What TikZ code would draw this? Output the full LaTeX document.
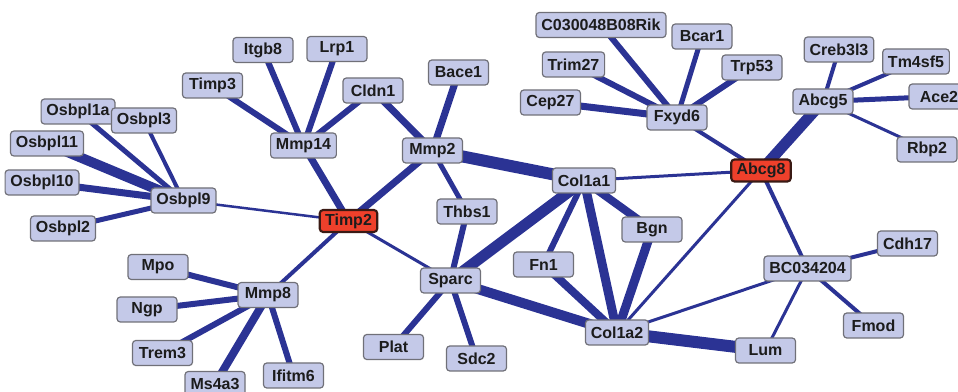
\documentclass[tikz,border=0pt]{standalone}
\usepackage{fontspec}
\setmainfont{Liberation Sans}
\pgfdeclarelayer{bg}
\pgfsetlayers{bg,main}
\definecolor{edgeblue}{HTML}{2B3394}
\definecolor{nodefill}{HTML}{C4C9E8}
\definecolor{nodeline}{HTML}{707078}
\definecolor{hitfill}{HTML}{EE402B}
\definecolor{hitline}{HTML}{3A1A14}
\definecolor{txt}{HTML}{1C1C1C}
\tikzset{
  gene/.style={draw=nodeline, line width=0.9pt, fill=nodefill, rounded corners=2.5pt,
    minimum width=45pt, minimum height=18.75pt, inner xsep=4pt, inner ysep=0pt,
    font=\fontsize{12}{14}\selectfont\bfseries, text=txt},
  hit/.style={gene, draw=hitline, line width=1.6pt, fill=hitfill, minimum width=42pt, minimum height=16.5pt},
  edge/.style={draw=edgeblue}
}
\begin{document}
\begin{tikzpicture}[x=0.75pt,y=-0.75pt]
\useasboundingbox (0,0) rectangle (958,392);
% left cluster
\node[gene] (Osbpl1a) at (78,111.5) {Osbpl1a};
\node[gene] (Osbpl3) at (144,120.5) {Osbpl3};
\node[gene] (Osbpl11) at (47,143.5) {Osbpl11};
\node[gene] (Osbpl10) at (42,182.5) {Osbpl10};
\node[gene] (Osbpl2) at (63,228.5) {Osbpl2};
\node[gene] (Osbpl9) at (183.5,200.5) {Osbpl9};
% Mmp8 cluster
\node[gene] (Mmp8) at (268,295) {Mmp8};
\node[gene] (Mpo) at (158,267) {Mpo};
\node[gene] (Ngp) at (147,309.5) {Ngp};
\node[gene] (Trem3) at (162.5,353) {Trem3};
\node[gene] (Ms4a3) at (215,384) {Ms4a3};
\node[gene] (Ifitm6) at (293.5,375.5) {Ifitm6};
% Mmp14 cluster
\node[gene] (Itgb8) at (263,50) {Itgb8};
\node[gene] (Lrp1) at (337,49) {Lrp1};
\node[gene] (Timp3) at (212.5,85.5) {Timp3};
\node[gene] (Cldn1) at (373,90.5) {Cldn1};
\node[gene] (Mmp14) at (303.5,145.5) {Mmp14};
% centre
\node[gene] (Bace1) at (458.5,72.5) {Bace1};
\node[gene] (Mmp2) at (432.5,150.5) {Mmp2};
\node[gene] (Thbs1) at (467,211.5) {Thbs1};
\node[hit] (Timp2) at (348.5,221) {Timp2};
\node[gene] (Sparc) at (450.5,280.5) {Sparc};
\node[gene] (Plat) at (393.5,347) {Plat};
\node[gene] (Sdc2) at (476.5,358.5) {Sdc2};
\node[gene] (Col1a1) at (584,180.5) {Col1a1};
\node[gene] (Bgn) at (652,229.5) {Bgn};
\node[gene] (Fn1) at (543.5,264.5) {Fn1};
\node[gene] (Col1a2) at (617,332.5) {Col1a2};
\node[gene] (Lum) at (765.5,350.5) {Lum};
\node[hit] (Abcg8) at (761,170.5) {Abcg8};
% right
\node[gene] (BC034204) at (807.5,268.5) {BC034204};
\node[gene] (Cdh17) at (907.5,243.5) {Cdh17};
\node[gene] (Fmod) at (873.5,325.5) {Fmod};
\node[gene] (Creb3l3) at (839,49.5) {Creb3l3};
\node[gene] (Tm4sf5) at (916,61.5) {Tm4sf5};
\node[gene] (Ace2) at (939,96.5) {Ace2};
\node[gene] (Abcg5) at (823,101.5) {Abcg5};
\node[gene] (Rbp2) at (927,149.5) {Rbp2};
% Fxyd6 cluster
\node[gene] (C030048B08Rik) at (601,25) {C030048B08Rik};
\node[gene] (Bcar1) at (702,36.5) {Bcar1};
\node[gene] (Trp53) at (752,67.5) {Trp53};
\node[gene] (Trim27) at (573.5,64.5) {Trim27};
\node[gene] (Cep27) at (550.5,102.5) {Cep27};
\node[gene] (Fxyd6) at (677,117.5) {Fxyd6};
\begin{pgfonlayer}{bg}
\foreach \a/\b/\w in {
  Osbpl1a/Osbpl9/5, Osbpl3/Osbpl9/4, Osbpl11/Osbpl9/10, Osbpl10/Osbpl9/7, Osbpl2/Osbpl9/5,
  Osbpl9/Timp2/2.5,
  Mpo/Mmp8/6, Ngp/Mmp8/6, Trem3/Mmp8/6, Ms4a3/Mmp8/8, Ifitm6/Mmp8/6, Mmp8/Timp2/4,
  Timp3/Mmp14/6, Itgb8/Mmp14/6, Lrp1/Mmp14/6, Cldn1/Mmp14/6, Mmp14/Timp2/7,
  Cldn1/Mmp2/7, Bace1/Mmp2/7, Mmp2/Timp2/7, Mmp2/Thbs1/5, Mmp2/Col1a1/12,
  Timp2/Sparc/3, Thbs1/Sparc/6, Sparc/Plat/6, Sparc/Sdc2/6, Sparc/Col1a1/11, Sparc/Col1a2/10,
  Col1a1/Fn1/6, Col1a1/Bgn/8, Col1a1/Col1a2/9, Col1a1/Abcg8/3, Fn1/Col1a2/8, Bgn/Col1a2/9,
  Col1a2/Abcg8/3, Col1a2/BC034204/3, Col1a2/Lum/12,
  Abcg8/Fxyd6/4, Abcg8/Abcg5/11, Abcg8/BC034204/4,
  C030048B08Rik/Fxyd6/6, Bcar1/Fxyd6/5, Trp53/Fxyd6/6, Trim27/Fxyd6/6, Cep27/Fxyd6/7,
  Creb3l3/Abcg5/4, Tm4sf5/Abcg5/4, Ace2/Abcg5/5, Rbp2/Abcg5/3,
  BC034204/Cdh17/4, BC034204/Fmod/4, BC034204/Lum/3}
  \draw[edge, line width=0.75pt*\w] (\a.center) -- (\b.center);
\end{pgfonlayer}
\end{tikzpicture}
\end{document}
